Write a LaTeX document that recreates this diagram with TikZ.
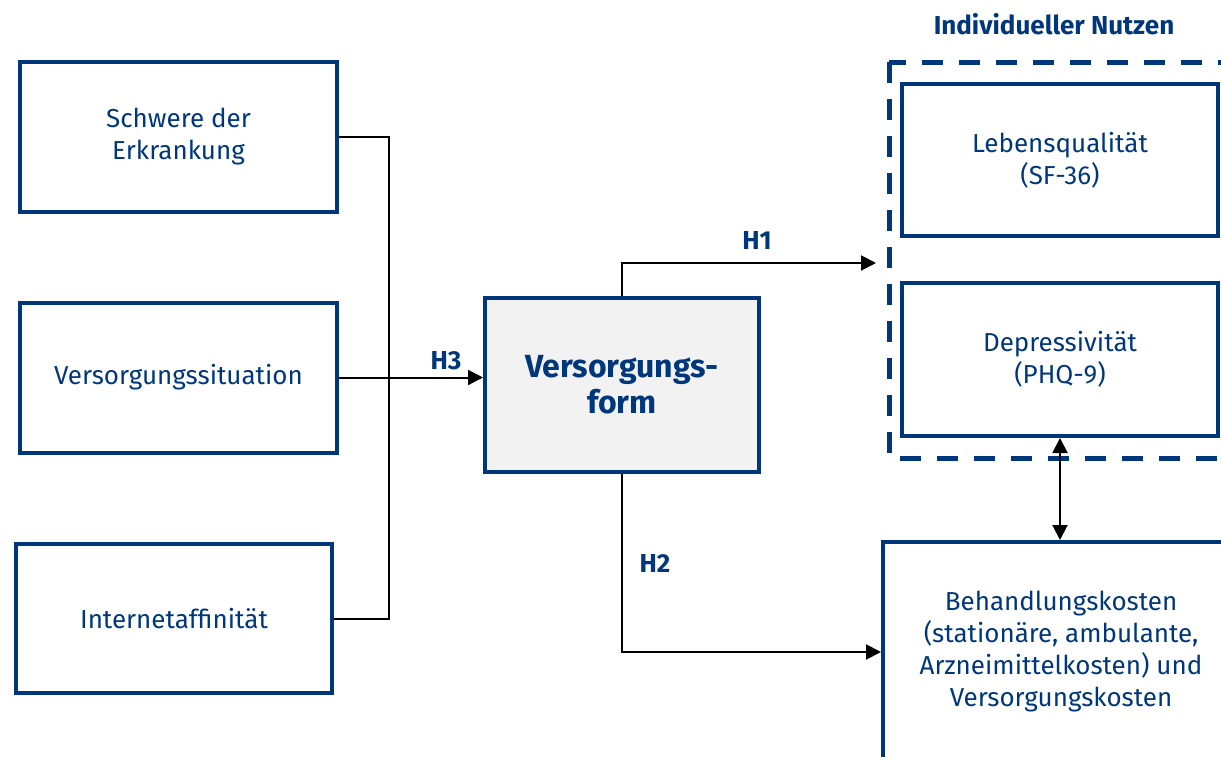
\documentclass[tikz,border=0pt]{standalone}
\usepackage{fontspec}
\setmainfont{Fira Sans}
\usetikzlibrary{arrows.meta,positioning}
\definecolor{navy}{HTML}{00377B}
\definecolor{formgray}{HTML}{F2F2F2}

\begin{document}
\begin{tikzpicture}[x=0.5pt,y=-0.5pt,
  box/.style={draw=navy, line width=2pt, text=navy, align=center, inner sep=0pt,
    font=\fontsize{13}{16}\selectfont},
  hyp/.style={text=navy, font=\fontsize{13}{15}\selectfont\bfseries},
  con/.style={line width=1pt},
  arr/.style={con, -{Triangle[length=7.5pt,width=7.5pt]}}]
\clip (0,0) rectangle (1221,756);
\node[box, minimum width=158.5pt, minimum height=75pt] (schwere) at (178.5,137) {Schwere der\\Erkrankung};
\node[box, minimum width=158.5pt, minimum height=75pt] (situation) at (178.5,377.5) {Versorgungssituation};
\node[box, minimum width=158pt, minimum height=74.5pt] (internet) at (174,618.5) {Internetaffinität};
\node[box, fill=formgray, minimum width=137pt, minimum height=87pt,
  font=\fontsize{16}{18}\selectfont\bfseries] (form) at (622,385) {Versorgungs-\\form};
\node[box, minimum width=158pt, minimum height=76pt] (leben) at (1060,160) {Lebensqualität\\(SF-36)};
\node[box, minimum width=158pt, minimum height=76.5pt] (depress) at (1060,359.5) {Depressivität\\(PHQ-9)};
\node[box, minimum width=178pt, minimum height=110pt] (kosten) at (1061,652)
  {Behandlungskosten\\(stationäre, ambulante,\\Arzneimittelkosten) und\\Versorgungskosten};
\draw[navy, line width=2.5pt, dash pattern=on 10.5pt off 8pt] (889,62) rectangle (1260,458);
\node[hyp] (nutzen) at (1054,24) {Individueller Nutzen};
\coordinate (nutzenin) at (876,263);

\draw[con] (schwere.east) -- ++(50,0) |- (internet.east);
\draw[arr] (situation.east) -- (situation.east -| form.west);
\draw[arr] (form.north) |- (nutzenin);
\draw[arr] (form.south) |- (kosten.west);
\draw[con, {Triangle[length=7.5pt,width=7.5pt]}-{Triangle[length=7.5pt,width=7.5pt]}]
  (depress.south) -- (depress.south |- kosten.north);
\node[hyp] (h1) at (757,240) {H1};
\node[hyp] (h2) at (655,563) {H2};
\node[hyp] (h3) at (446,361) {H3};
\end{tikzpicture}
\end{document}
